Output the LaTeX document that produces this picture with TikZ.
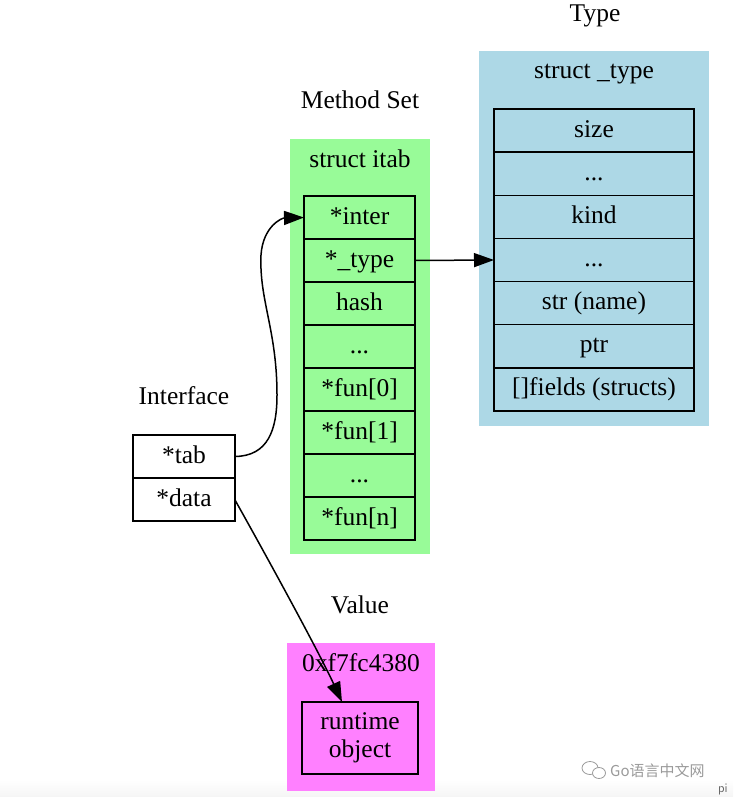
\documentclass[tikz,border=0pt]{standalone}
\usepackage{fontspec}
\setmainfont{Liberation Serif}
\newfontfamily\cjkfont{Noto Sans CJK SC}
\usetikzlibrary{arrows.meta}
\definecolor{typeblue}{HTML}{ADD8E6}
\definecolor{itabgreen}{HTML}{98FB98}
\definecolor{valmag}{HTML}{FF80FF}
\definecolor{wmgray}{HTML}{9A9A9A}
\tikzset{
  basefont/.style={font=\fontsize{25.5}{28}\selectfont},
  rowbox/.style={draw=black, line width=1.5pt, inner sep=0pt, outer sep=0pt, anchor=north,
    basefont, text height=18pt, text depth=5pt},
  typerow/.style={rowbox, fill=typeblue, minimum width=200pt, minimum height=43.14pt},
  itabrow/.style={rowbox, fill=itabgreen, minimum width=111pt, minimum height=43pt},
  ifacerow/.style={rowbox, fill=white, minimum width=102pt, minimum height=43pt},
  title/.style={basefont, anchor=base, inner sep=0pt},
  arrowline/.style={line width=1.5pt, -{Triangle[length=20pt,width=14pt]}},
}
\begin{document}
\begin{tikzpicture}[x=1pt,y=-1pt]
\useasboundingbox (0,0) rectangle (733,797);
% faint bottom shading
\shade[top color=white, bottom color=black!4, draw=none] (0,780) rectangle (733,797);

% ---- Type cluster ----
\node[title] (typetitle) at (595,22) {Type};
\fill[typeblue] (479,51) rectangle (709,426);
\node[title] (typelabel) at (594,79) {struct \_type};
\node[typerow] (tsize) at (594,109) {size};
\node[typerow] (tdots1) at (tsize.south) {...};
\node[typerow] (tkind) at (tdots1.south) {kind};
\node[typerow] (tdots2) at (tkind.south) {...};
\node[typerow] (tstr) at (tdots2.south) {str (name)};
\node[typerow] (tptr) at (tstr.south) {ptr};
\node[typerow] (tfields) at (tptr.south) {[]fields (structs)};

% ---- Method Set cluster ----
\node[title] (mstitle) at (360,109) {Method Set};
\fill[itabgreen] (290,139) rectangle (430,554);
\node[title] (itablabel) at (360,167) {struct itab};
\node[itabrow] (inter) at (359.5,196) {*inter};
\node[itabrow] (itype) at (inter.south) {*\_type};
\node[itabrow] (hash) at (itype.south) {hash};
\node[itabrow] (idots1) at (hash.south) {...};
\node[itabrow] (fun0) at (idots1.south) {*fun[0]};
\node[itabrow] (fun1) at (fun0.south) {*fun[1]};
\node[itabrow] (idots2) at (fun1.south) {...};
\node[itabrow] (funn) at (idots2.south) {*fun[n]};

% ---- Interface ----
\node[title] (ifacetitle) at (184,404) {Interface};
\node[ifacerow] (tab) at (184,435) {*tab};
\node[ifacerow] (data) at (tab.south) {*data};

% ---- Value cluster ----
\node[title] (valtitle) at (360,613) {Value};
\fill[valmag] (287,643) rectangle (435,791);
\node[title] (addr) at (361,671) {0xf7fc4380};
\node[draw=black, line width=1.5pt, fill=valmag, minimum width=116pt, minimum height=72pt,
  inner sep=0pt, outer sep=0pt, align=center, basefont] (robj) at (360,738) {runtime\\object};

% ---- edges ----
\draw[arrowline] (tab.east) .. controls (268,456) and (277,430) .. (277,395)
  .. controls (277,330) and (259,300) .. (261,255)
  .. controls (263,226) and (282,218) .. (inter.west);
\draw[arrowline] (itype.east) -- (tdots2.west);
\coordinate (datastart) at (235,500);
\draw[arrowline] (datastart) .. controls (262,548) and (318,650) .. (342,702);

% ---- watermark ----
\draw[wmgray, line width=0.8pt] (590,768) ellipse [x radius=8pt, y radius=6.5pt];
\draw[wmgray, line width=0.8pt, fill=white] (599,773) ellipse [x radius=6.5pt, y radius=5.5pt];
\node[anchor=base west, inner sep=0pt, text=wmgray, font=\cjkfont\fontsize{15}{18}\selectfont] (wm) at (610,776) {Go语言中文网};
\node[anchor=base west, inner sep=0pt, text=black!60, font=\sffamily\fontsize{13}{15}\selectfont] (pi) at (718,792) {pi};
\end{tikzpicture}
\end{document}
